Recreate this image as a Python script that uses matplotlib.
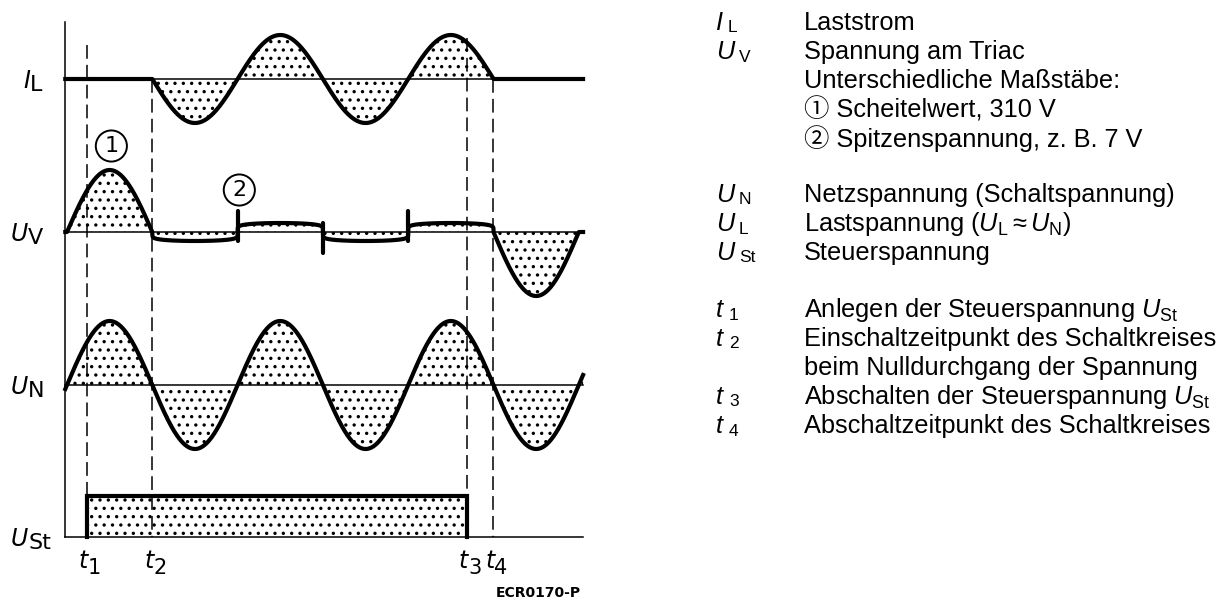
import numpy as np
import matplotlib.pyplot as plt

plt.rcParams['hatch.linewidth'] = 1.2
plt.rcParams['mathtext.fontset'] = 'custom'
plt.rcParams['mathtext.rm'] = 'Liberation Sans'
plt.rcParams['mathtext.it'] = 'Liberation Sans:italic'

# time base: 50 Hz mains, 10 ms per half wave
t_axis_ms = -0.2
t_end_ms = 60.5
event_subs = ["1", "2", "3", "4"]
event_ms = [2.3, 10.0, 46.9, 50.0]
dash_top_px = [45, 79, 38, 79]

# traces: I_L, U_V, U_N, U_St
trace_main = ["I", "U", "U", "U"]
trace_subs = ["L", "V", "N", "St"]
baseline_px = [79, 232, 385, 537]
amp_il = 44
amp_uv = [62, 64]        # first / last half wave (scale 1)
amp_un = 64
amp_ust = 41
uv_on_level = 9          # on-state voltage of the triac (scale 2)
uv_spike = 21
uv_spike_ms = [20.0, 30.0, 40.0]

# explanation on the right
legend_main = ["I", "U", "", "", "", "U", "U", "U", "t", "t", "", "t", "t"]
legend_subs = ["L", "V", "", "", "", "N", "L", "St", "1", "2", "", "3", "4"]
legend_text = [
    "Laststrom",
    "Spannung am Triac",
    "Unterschiedliche Maßstäbe:",
    "\u2460 Scheitelwert, 310 V",
    "\u2461 Spitzenspannung, z. B. 7 V",
    "Netzspannung (Schaltspannung)",
    r"Lastspannung ($U_\mathrm{L} \approx U_\mathrm{N}$)",
    "Steuerspannung",
    r"Anlegen der Steuerspannung $U_\mathrm{St}$",
    "Einschaltzeitpunkt des Schaltkreises",
    "beim Nulldurchgang der Spannung",
    r"Abschalten der Steuerspannung $U_\mathrm{St}$",
    "Abschaltzeitpunkt des Schaltkreises",
]
legend_row_px = [23, 52, 81, 110, 139, 195, 224, 253, 310, 339, 368, 397, 426]

PX_PER_MS = 8.53
X0 = 67
LW = 3.0
DIAG_FONT = ['Liberation Sans Narrow', 'DejaVu Sans']
TEXT_FONT = ['Liberation Sans', 'Noto Sans CJK JP', 'DejaVu Sans']
SUB_X = {"I": 728, "U": 739, "t": 729}


def px(t):
    return X0 + PX_PER_MS * np.asarray(t)


fig = plt.figure(figsize=(12.31, 6.01), dpi=100)
ax = fig.add_axes([0, 0, 1, 1])
ax.set_xlim(0, 1231)
ax.set_ylim(601, 0)
ax.axis('off')

t = np.linspace(t_axis_ms, t_end_ms, 3000)
s = np.sin(np.pi * t / 10.0)
t1, t2, t3, t4 = event_ms
on = (t >= t2) & (t <= t4)


def dotted(x, base, v):
    ax.fill_between(x, base, base - v, hatch='..', facecolor='none',
                    edgecolor='black', linewidth=0)


# I_L
b = baseline_px[0]
il = np.where(on, amp_il * s, 0.0)
ax.plot(px([t2, t4]), [b, b], color='black', lw=1.1)
dotted(px(t), b, il)
ax.plot(px(t), b - il, color='black', lw=LW)

# U_V
b = baseline_px[1]
uv = np.where(t <= t2, np.maximum(amp_uv[0] * s, 0), 0.0)
uv = np.where(on, np.sign(s) * uv_on_level * np.abs(s) ** 0.15, uv)
uv = np.where(t > t4, np.minimum(amp_uv[1] * s, 0), uv)
ax.plot(px([t_axis_ms, t_end_ms]), [b, b], color='black', lw=1.1)
dotted(px(t), b, uv)
ax.plot(px(t), b - uv, color='black', lw=LW)
for i, ts in enumerate(uv_spike_ms):
    sign = 1 if i % 2 == 0 else -1
    ax.plot(px([ts, ts]), [b + sign * uv_on_level, b - sign * uv_spike],
            color='black', lw=LW, solid_capstyle='round')

# U_N
b = baseline_px[2]
un = amp_un * s
ax.plot(px([t_axis_ms, t_end_ms]), [b, b], color='black', lw=1.1)
dotted(px(t), b, un)
ax.plot(px(t), b - un, color='black', lw=LW)

# U_St
b = baseline_px[3]
ax.plot(px([t_axis_ms, t_end_ms]), [b, b], color='black', lw=1.1)
ts = np.array([t1, t3])
dotted(px(ts), b, np.array([amp_ust, amp_ust]))
ax.plot(px([t1, t1, t3, t3]), [b, b - amp_ust, b - amp_ust, b],
        color='black', lw=LW, solid_joinstyle='miter')

# time axis line
ax.plot(px([t_axis_ms, t_axis_ms]), [22, baseline_px[3]], color='black', lw=1.1)

# event markers
for tm, top, sub in zip(event_ms, dash_top_px, event_subs):
    ax.plot(px([tm, tm]), [top, baseline_px[3]], color='black', lw=1.1,
            linestyle=(0, (9, 4)))
    ax.text(px(tm) + 1, 568, "t", family=DIAG_FONT, style='italic',
            size=17, ha='right', va='baseline')
    ax.text(px(tm) + 1, 574, sub, family=DIAG_FONT, size=15,
            ha='left', va='baseline')

# trace names
for main, sub, b in zip(trace_main, trace_subs, baseline_px):
    xj = 30 if main == "I" else 28
    ax.text(xj, b + 9, main, family=DIAG_FONT, style='italic', size=17,
            ha='right', va='baseline')
    ax.text(xj, b + 12, sub, family=DIAG_FONT, size=16, ha='left',
            va='baseline')

# scale markers 1 and 2
circ = dict(boxstyle='circle,pad=0.25', fc='white', ec='black', lw=1.4)
ax.text(px(5.2), 146, "1", family=DIAG_FONT, size=16, ha='center',
        va='center', bbox=circ)
ax.text(px(20.2), 190, "2", family=DIAG_FONT, size=16, ha='center',
        va='center', bbox=circ)

ax.text(538, 593, "ECR0170-P", family='DejaVu Sans', weight='bold', size=10,
        ha='center', va='center')

# explanation block
for main, sub, txt, y in zip(legend_main, legend_subs, legend_text,
                             legend_row_px):
    if main:
        ax.text(716, y, main, family=TEXT_FONT, style='italic', size=18.3,
                ha='left', va='center')
        ax.text(SUB_X[main], y + 5, sub, family=TEXT_FONT, size=12.5,
                ha='left', va='center')
    ax.text(804, y, txt, family=TEXT_FONT, size=18.3, ha='left', va='center')

fig.savefig('out.png', dpi=100, facecolor='white')
